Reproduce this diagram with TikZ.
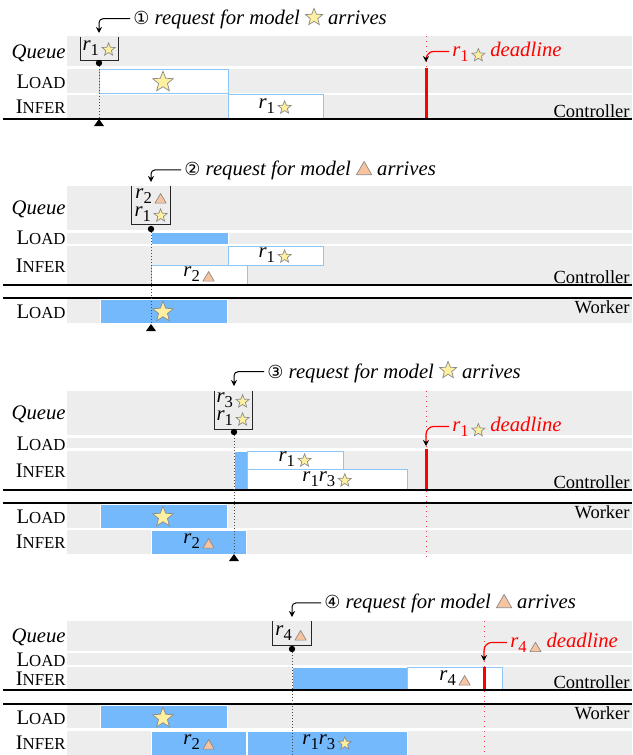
\documentclass[tikz,border=0pt]{standalone}
\usepackage{fontspec}
\setmainfont{Liberation Serif}
\newfontfamily\circfont{DejaVu Sans}
\usetikzlibrary{shapes.geometric,arrows.meta}
\definecolor{rowgray}{HTML}{EDEDED}
\definecolor{barblue}{HTML}{74B9FB}
\definecolor{edgeblue}{HTML}{8EC6F8}
\definecolor{staryel}{HTML}{FFF0A0}
\definecolor{symgray}{HTML}{8A8A8A}
\definecolor{tripeach}{HTML}{F8C4A0}
\newcommand{\mainsz}{\fontsize{10.35}{12}\selectfont}
\newcommand{\rolesz}{\fontsize{9.25}{11}\selectfont}
\newcommand{\fsc}[2]{#1{\fontsize{8.4}{8}\selectfont #2}}
\newcommand{\symstar}[1]{\tikz\node[star,star points=5,star point ratio=2.3,minimum size=#1,inner sep=0pt,anchor=center,draw=symgray,fill=staryel,line width=0.35pt]{};}
\newcommand{\symtri}[2]{\tikz\filldraw[draw=symgray,fill=tripeach,line width=0.35pt,line join=round](0pt,0pt)--(#1,0pt)--({#1/2},#2)--cycle;}
\newcommand{\sst}{\symstar{6.8pt}}
\newcommand{\stri}{\symtri{5.6pt}{4.8pt}}
\newcommand{\sub}[1]{\raisebox{-0.25em}{\upshape\fontsize{8.3}{8}\selectfont #1}}
\newcommand{\rlab}[2]{\textit{r}\sub{#1\,#2}}
\begin{document}
\begin{tikzpicture}[x=0.5pt,y=-0.5pt,
  row/.style={fill=rowgray},
  wbox/.style={draw=edgeblue,fill=white,line width=0.5pt},
  bbox/.style={draw=white,fill=barblue,line width=0.5pt},
  sepline/.style={line width=0.6pt,black},
  qbox/.style={draw=black!85,line width=0.5pt},
  lbl/.style={anchor=base east,inner sep=0pt,font=\mainsz},
  role/.style={anchor=base east,inner sep=0pt,font=\rolesz},
  ttl/.style={anchor=base west,inner sep=1.5pt,font=\mainsz\itshape},
  txt/.style={inner sep=0pt,font=\mainsz},
  dltxt/.style={anchor=base west,inner sep=1.5pt,font=\mainsz\itshape,text=red},
  callout/.style={rounded corners=2pt,line width=0.5pt,-{Stealth[length=3pt,width=3pt]}},
  dlarrow/.style={red,rounded corners=4pt,line width=0.6pt,-{Stealth[black,length=3pt,width=3pt]}},
  dlline/.style={red!80,dotted,line width=0.5pt},
  dlbar/.style={red,line width=1.5pt},
  arrv/.style={densely dotted,line width=0.5pt,black!70},
  dotmark/.style={fill=black},
  tmarker/.style={fill=black}]
\useasboundingbox (0,0) rectangle (632,755);

% ================= Panel 1 =================
\fill[row] (67,36) rectangle (632,66);
\fill[row] (67,69) rectangle (632,93);
\fill[row] (67,95) rectangle (632,119);
\draw[wbox] (99,69) rectangle (228,93);
\draw[wbox] (228,94) rectangle (323,119);
\draw[dlline] (426,36) -- (426,119);
\draw[dlbar] (426,68) -- (426,119);
\draw[sepline] (3,119) -- (632,119);
\draw[qbox] (80,37) |- (118,60) -- (118,37);
\coordinate (a1) at (99,63);
\coordinate (a1b) at (99,119);
\coordinate (a1t) at (99,33);
\draw[arrv] (a1) -- (a1b);
\fill[dotmark] (a1) circle (1.6pt);
\fill[tmarker] (a1b) -- ++(-5,7) -- ++(10,0) -- cycle;
\node[ttl] (t1) at (130,25) {{\upshape\circfont\fontsize{9}{9}\selectfont ①}\ request for model \symstar{9pt}\ arrives};
\draw[callout] (t1.west) -| (a1t);
\node[lbl] (q1) at (66,58) {\textit{Queue}};
\node[lbl] (l1) at (66,88) {\fsc{L}{OAD}};
\node[lbl] (i1) at (66,113) {\fsc{I}{NFER}};
\node[txt] (q1r1) at (99,48) {\rlab{1}{\sst}};
\node[inner sep=0pt] (s1) at (163,81) {\symstar{10.8pt}};
\node[txt] (i1r1) at (275,106) {\rlab{1}{\sst}};
\coordinate (d1) at (426,62);
\node[dltxt] (dl1) at (449,56) {\rlab{1}{\sst}\ deadline};
\draw[dlarrow] (dl1.west) -| (d1);
\node[role] (c1) at (630,117) {Controller};

% ================= Panel 2 =================
\fill[row] (67,186) rectangle (632,230);
\fill[row] (67,233) rectangle (632,244);
\fill[row] (67,246) rectangle (632,285);
\fill[row] (67,299) rectangle (632,323);
\draw[bbox] (151,232) rectangle (228,244);
\draw[wbox] (228,246) rectangle (323,265);
\draw[wbox] (151,265) rectangle (247,285);
\draw[bbox] (100,299) rectangle (227,323);
\draw[sepline] (3,285) -- (632,285);
\draw[sepline] (3,298) -- (632,298);
\draw[qbox] (131,186) |- (170,224) -- (170,186);
\coordinate (a2) at (151,229);
\coordinate (a2b) at (151,324);
\coordinate (a2t) at (151,182);
\draw[arrv] (a2) -- (a2b);
\fill[dotmark] (a2) circle (1.6pt);
\fill[tmarker] (a2b) -- ++(-5,7) -- ++(10,0) -- cycle;
\node[ttl] (t2) at (181,175) {{\upshape\circfont\fontsize{9}{9}\selectfont ②}\ request for model \symtri{7.6pt}{6.6pt}\ arrives};
\draw[callout] (t2.west) -| (a2t);
\node[lbl] (q2) at (66,214) {\textit{Queue}};
\node[lbl] (l2) at (66,244) {\fsc{L}{OAD}};
\node[lbl] (i2) at (66,272) {\fsc{I}{NFER}};
\node[lbl] (wl2) at (66,318) {\fsc{L}{OAD}};
\node[txt] (q2r2) at (151,196) {\rlab{2}{\stri}};
\node[txt] (q2r1) at (151,214) {\rlab{1}{\sst}};
\node[txt] (i2r1) at (275,255) {\rlab{1}{\sst}};
\node[txt] (i2r2) at (199,274) {\rlab{2}{\stri}};
\node[inner sep=0pt] (s2) at (163,311) {\symstar{10.8pt}};
\node[role] (c2) at (630,283) {Controller};
\node[role] (w2) at (630,313) {Worker};

% ================= Panel 3 =================
\fill[row] (67,391) rectangle (632,435);
\fill[row] (67,438) rectangle (632,448);
\fill[row] (67,451) rectangle (632,490);
\fill[row] (67,504) rectangle (632,528);
\fill[row] (67,530) rectangle (632,554);
\draw[bbox] (234,451) rectangle (247,490);
\draw[wbox] (247,451) rectangle (343,469);
\draw[wbox] (247,469) rectangle (407,490);
\draw[bbox] (100,504) rectangle (227,528);
\draw[bbox] (151,530) rectangle (246,554);
\draw[dlline] (426,391) -- (426,557);
\draw[dlbar] (426,449) -- (426,490);
\draw[sepline] (3,490) -- (632,490);
\draw[sepline] (3,503) -- (632,503);
\draw[qbox] (214,391) |- (252,429) -- (252,391);
\coordinate (a3) at (234,432);
\coordinate (a3b) at (234,554);
\coordinate (a3t) at (234,386);
\draw[arrv] (a3) -- (a3b);
\fill[dotmark] (a3) circle (1.6pt);
\fill[tmarker] (a3b) -- ++(-5,7) -- ++(10,0) -- cycle;
\node[ttl] (t3) at (264,378) {{\upshape\circfont\fontsize{9}{9}\selectfont ③}\ request for model \symstar{9pt}\ arrives};
\draw[callout] (t3.west) -| (a3t);
\node[lbl] (q3) at (66,419) {\textit{Queue}};
\node[lbl] (l3) at (66,450) {\fsc{L}{OAD}};
\node[lbl] (i3) at (66,477) {\fsc{I}{NFER}};
\node[lbl] (wl3) at (66,523) {\fsc{L}{OAD}};
\node[lbl] (wi3) at (66,548) {\fsc{I}{NFER}};
\node[txt] (q3r3) at (233,400) {\rlab{3}{\sst}};
\node[txt] (q3r1) at (233,418) {\rlab{1}{\sst}};
\node[txt] (i3r1) at (295,459) {\rlab{1}{\sst}};
\node[txt] (i3r13) at (327,479) {\textit{r}\sub{1}\textit{r}\sub{3\,\sst}};
\node[inner sep=0pt] (s3) at (163,516) {\symstar{10.8pt}};
\node[txt] (w3r2) at (199,541) {\rlab{2}{\stri}};
\coordinate (d3) at (426,446);
\node[dltxt] (dl3) at (449,431) {\rlab{1}{\sst}\ deadline};
\draw[dlarrow] (dl3.west) -| (d3);
\node[role] (c3) at (630,488) {Controller};
\node[role] (w3) at (630,518) {Worker};

% ================= Panel 4 =================
\fill[row] (67,621) rectangle (632,651);
\fill[row] (67,653) rectangle (632,665);
\fill[row] (67,667) rectangle (632,690);
\fill[row] (67,705) rectangle (632,728);
\fill[row] (67,731) rectangle (632,755);
\draw[bbox] (292,667) rectangle (407,690);
\draw[wbox] (407,667) rectangle (502,690);
\draw[bbox] (100,705) rectangle (227,728);
\draw[bbox] (151,731) rectangle (246,755);
\draw[bbox] (247,731) rectangle (407,755);
\draw[dlline] (484,621) -- (484,755);
\draw[dlbar] (484,667) -- (484,690);
\draw[sepline] (3,690) -- (632,690);
\draw[sepline] (3,704) -- (632,704);
\draw[qbox] (272,621) |- (311,645) -- (311,621);
\coordinate (a4) at (292,649);
\coordinate (a4b) at (292,755);
\coordinate (a4t) at (292,617);
\draw[arrv] (a4) -- (a4b);
\fill[dotmark] (a4) circle (1.6pt);
\node[ttl] (t4) at (321,608) {{\upshape\circfont\fontsize{9}{9}\selectfont ④}\ request for model \symtri{7.6pt}{6.6pt}\ arrives};
\draw[callout] (t4.west) -| (a4t);
\node[lbl] (q4) at (66,642) {\textit{Queue}};
\node[lbl] (l4) at (66,666) {\fsc{L}{OAD}};
\node[lbl] (i4) at (66,685) {\fsc{I}{NFER}};
\node[lbl] (wl4) at (66,724) {\fsc{L}{OAD}};
\node[lbl] (wi4) at (66,749) {\fsc{I}{NFER}};
\node[txt] (q4r4) at (291,633) {\rlab{4}{\stri}};
\node[txt] (i4r4) at (455,678) {\rlab{4}{\stri}};
\node[inner sep=0pt] (s4) at (163,717) {\symstar{10.8pt}};
\node[txt] (w4r2) at (199,742) {\rlab{2}{\stri}};
\node[txt] (w4r13) at (327,742) {\textit{r}\sub{1}\textit{r}\sub{3\,\sst}};
\coordinate (d4) at (484,661);
\node[dltxt] (dl4) at (507,647) {\rlab{4}{\stri}\ deadline};
\draw[dlarrow] (dl4.west) -| (d4);
\node[role] (c4) at (630,688) {Controller};
\node[role] (w4) at (630,719) {Worker};
\end{tikzpicture}
\end{document}
